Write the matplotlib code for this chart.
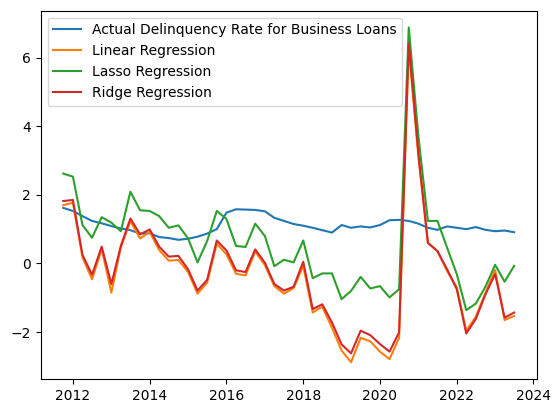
import matplotlib
matplotlib.use("Agg")
import matplotlib.pyplot as plt
import pandas as pd

# quarterly observations, 2011 Q4 .. 2023 Q3
dates = pd.date_range("2011-10-01", periods=48, freq="QS")

actual = [1.62, 1.53, 1.38, 1.24, 1.17, 1.09, 1.02, 0.97, 0.87, 0.88,
          0.77, 0.74, 0.69, 0.72, 0.78, 0.87, 1.00, 1.48, 1.58, 1.57,
          1.56, 1.52, 1.33, 1.24, 1.15, 1.10, 1.04, 0.97, 0.90, 1.12,
          1.04, 1.08, 1.05, 1.12, 1.26, 1.27, 1.24, 1.16, 1.04, 0.98,
          1.08, 1.04, 1.00, 1.06, 0.98, 0.94, 0.96, 0.91]

linear = [1.70, 1.77, 0.18, -0.46, 0.42, -0.85, 0.47, 1.23, 0.73, 0.92,
          0.39, 0.08, 0.10, -0.25, -0.88, -0.56, 0.57, 0.27, -0.30, -0.35,
          0.35, -0.05, -0.66, -0.88, -0.72, -0.07, -1.43, -1.26, -1.87, -2.54,
          -2.88, -2.17, -2.27, -2.57, -2.79, -2.17, 6.30, 3.10, 0.60, 0.36,
          -0.22, -0.70, -1.96, -1.55, -0.86, -0.19, -1.65, -1.53]

lasso = [2.62, 2.53, 1.12, 0.75, 1.35, 1.19, 0.94, 2.09, 1.55, 1.53,
         1.38, 1.04, 1.11, 0.73, 0.03, 0.65, 1.53, 1.30, 0.51, 0.48,
         1.16, 0.80, -0.08, 0.11, 0.03, 0.67, -0.43, -0.29, -0.29, -1.04,
         -0.80, -0.39, -0.73, -0.66, -0.99, -0.75, 6.88, 3.70, 1.24, 1.24,
         0.46, -0.31, -1.36, -1.17, -0.68, -0.04, -0.53, -0.07]

ridge = [1.82, 1.85, 0.25, -0.33, 0.49, -0.60, 0.51, 1.31, 0.85, 0.99,
         0.49, 0.20, 0.22, -0.17, -0.79, -0.48, 0.67, 0.38, -0.20, -0.25,
         0.41, 0.02, -0.60, -0.79, -0.68, 0.05, -1.33, -1.19, -1.72, -2.36,
         -2.62, -1.96, -2.09, -2.35, -2.57, -2.01, 6.42, 3.20, 0.60, 0.36,
         -0.17, -0.75, -2.04, -1.62, -0.90, -0.31, -1.58, -1.43]

fig = plt.figure(figsize=(5.6, 4.13), dpi=100)
ax = fig.add_axes([40.7 / 560, 34 / 413, 496 / 560, 368.3 / 413])

ax.plot(dates, actual, label="Actual Delinquency Rate for Business Loans")
ax.plot(dates, linear, label="Linear Regression")
ax.plot(dates, lasso, label="Lasso Regression")
ax.plot(dates, ridge, label="Ridge Regression")
ax.legend(loc="upper left")

fig.savefig("out.png", dpi=100)
